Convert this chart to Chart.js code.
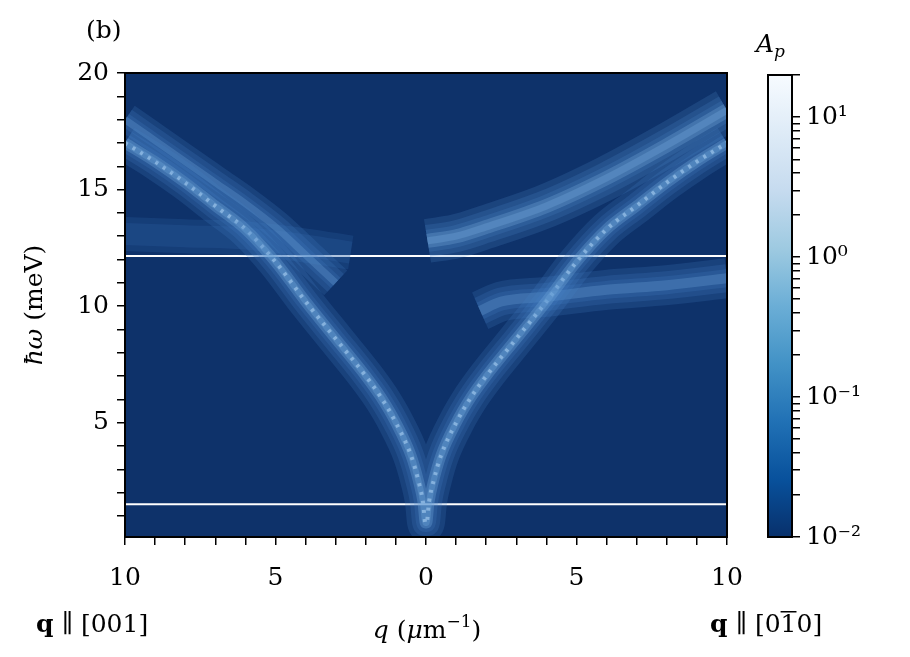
<!DOCTYPE html>
<html><head><meta charset="utf-8">
<script src="https://cdn.jsdelivr.net/npm/chart.js@4"></script>
<style>body{margin:0;background:#fff;width:910px;height:657px;position:relative;overflow:hidden}
#c1{position:absolute;left:0;top:0}#c2{position:absolute;left:740px;top:0}</style></head>
<body><canvas id="c1" width="910" height="657"></canvas><canvas id="c2" width="170" height="657"></canvas>
<script>
// dispersion (q in μm^-1, ħω in meV), same on both sides
const dispQ = [0.02,0.1,0.25,0.5,1,1.5,2,3,4,5,6,7,8,9,10];
const dispW = [0.7,1.6,2.5,3.6,5.0,6.1,7.0,8.6,10.2,11.9,13.3,14.3,15.3,16.2,17.0];
// bright bands
const rightUpperQ = [0.05,1,2,4,6,8,10];
const rightUpperW = [12.8,13.0,13.4,14.3,15.5,16.9,18.4];
const rightLowerQ = [1.8,2.5,4,6,8,10];
const rightLowerW = [9.8,10.2,10.4,10.7,10.9,11.2];
const leftUpperQ = [3,4,5,6,7,8,9,10];
const leftUpperW = [11.0,12.2,13.4,14.4,15.3,16.2,17.1,18.0];
const leftLowerQ = [2.5,4,6,8,10];
const leftLowerW = [12.3,12.6,12.9,13.0,13.1];
const hLines = [12.15, 1.5];
const serif = "'DejaVu Serif',serif";

const pts=(qs,ws,s)=>qs.map((q,i)=>({x:s*q,y:ws[i]}));
const full=(qs,ws)=>pts(qs,ws,-1).reverse().concat(pts(qs,ws,1));
const line=(data,w,c)=>({type:'line',data,borderColor:c,borderWidth:w,pointRadius:0,cubicInterpolationMode:'monotone',borderCapStyle:'butt',fill:false});
const glow=(data,ws,rgb,a)=>ws.map(w=>line(data,w,`rgba(${rgb},${a})`));
const ds=[
 ...glow(full(dispQ,dispW),[36,26,18],'70,130,200',0.2),
 ...glow(full(dispQ,dispW),[11,6],'150,200,235',0.35),
 ...glow(pts(rightUpperQ,rightUpperW,1),[44,32,22],'80,140,205',0.2),
 ...glow(pts(rightUpperQ,rightUpperW,1),[14,7],'160,205,238',0.3),
 ...glow(pts(rightLowerQ,rightLowerW,1),[40,28,18],'70,130,200',0.2),
 ...glow(pts(rightLowerQ,rightLowerW,1),[10],'150,200,235',0.3),
 ...glow(pts(leftUpperQ,leftUpperW,-1),[34,24,14],'70,130,200',0.2),
 ...glow(pts(leftUpperQ,leftUpperW,-1),[7],'150,200,235',0.3),
 ...glow(pts(leftLowerQ,leftLowerW,-1),[34,22],'50,105,175',0.22),
 ...hLines.map(h=>({type:'line',data:[{x:-10,y:h},{x:10,y:h}],borderColor:'#fff',borderWidth:2,pointRadius:0})),
 {type:'line',data:full(dispQ,dispW),borderColor:'#fff',borderWidth:4,borderDash:[3,6],pointRadius:0,cubicInterpolationMode:'monotone',fill:false}
];
function txt(x,parts,X,Y){let cx=X;parts.forEach(p=>{x.font=p[1];x.fillText(p[0],cx,Y+(p[2]||0));cx+=x.measureText(p[0]).width;});}
function wid(x,parts){let w=0;parts.forEach(p=>{x.font=p[1];w+=x.measureText(p[0]).width;});return w;}
const F='25px '+serif, FI='italic 25px '+serif, FS='17px '+serif, FB='bold 25px '+serif;
const bg={id:'bg',beforeDatasetsDraw(c){const a=c.chartArea,x=c.ctx;x.save();x.fillStyle='#0e326a';x.fillRect(a.left,a.top,a.width,a.height);x.restore();},
 afterDraw(c){const a=c.chartArea,x=c.ctx;x.save();x.strokeStyle='#000';x.lineWidth=2;x.strokeRect(a.left,a.top,a.width,a.height);
 x.fillStyle='#000';x.textAlign='left';x.textBaseline='alphabetic';
 txt(x,[['(b)',F]],86,38);
 const p=[['q',FI],[' (',F],['μ',FI],['m',F],['−1',FS,-11],[')',F]];txt(x,p,427-wid(x,p)/2,638);
 txt(x,[['q',FB],[' ∥ [001]',F]],36,632);
 txt(x,[['q',FB],[' ∥ [0',F]],710,632);
 x.font=F;const w0=710+wid(x,[['q',FB],[' ∥ [0',F]]);x.fillText('1',w0,632);const w1=x.measureText('1').width;x.fillRect(w0,611,w1,1.5);x.fillText('0]',w0+w1,632);
 x.translate(42,305);x.rotate(-Math.PI/2);const py=[['ħω',FI],[' (meV)',F]];txt(x,py,-wid(x,py)/2,0);
 x.restore();}};
const tickGrid={display:true,drawOnChartArea:false,tickLength:8,tickColor:'#000',lineWidth:1.5};
new Chart(document.getElementById('c1'),{type:'line',data:{datasets:ds},plugins:[bg],
 options:{responsive:false,animation:false,layout:{padding:{left:0,right:183,top:73,bottom:46}},
 plugins:{legend:{display:false},tooltip:{enabled:false}},
 scales:{x:{type:'linear',min:-10,max:10,grid:tickGrid,border:{display:false},
   ticks:{autoSkip:false,maxRotation:0,color:'#000',font:{family:serif,size:25},padding:18,callback:v=>v%5===0?Math.abs(v):''},
   afterBuildTicks(s){s.ticks=[];for(let v=-10;v<=10;v++)s.ticks.push({value:v});}},
  y:{type:'linear',min:0.1,max:20,border:{display:false},grid:tickGrid,
   ticks:{autoSkip:false,color:'#000',font:{family:serif,size:25},padding:8,callback:v=>v%5===0&&v>0?v:''},
   afterFit(s){s.width=125;},
   afterBuildTicks(s){s.ticks=[];for(let v=1;v<=20;v++)s.ticks.push({value:v});}}}}});

// colorbar
const cbPl={id:'cb',beforeDatasetsDraw(c){const a=c.chartArea,x=c.ctx;const g=x.createLinearGradient(0,a.bottom,0,a.top);
 const stops=['#08306b','#08519c','#2171b5','#4292c6','#6baed6','#9ecae1','#c6dbef','#deebf7','#f7fbff'];
 stops.forEach((s,i)=>g.addColorStop(i/(stops.length-1),s));x.save();x.fillStyle=g;x.fillRect(a.left,a.top,a.width,a.height);
 x.strokeStyle='#000';x.lineWidth=2;x.strokeRect(a.left,a.top,a.width,a.height);
 x.fillStyle='#000';txt(x,[['A',FI],['p',"italic 17px "+serif,5]],16,52);x.restore();}};
const sup={'-2':'⁻²','-1':'⁻¹','0':'⁰','1':'¹'};
new Chart(document.getElementById('c2'),{type:'scatter',data:{datasets:[{data:[]}]},plugins:[cbPl],
 options:{responsive:false,animation:false,layout:{padding:{left:28,right:0,top:75,bottom:657-537}},
 plugins:{legend:{display:false},tooltip:{enabled:false}},
 scales:{x:{display:false,min:0,max:1},y:{type:'logarithmic',position:'right',min:0.01,max:20,border:{display:false},
  grid:tickGrid,
  ticks:{color:'#000',font:{family:serif,size:25},padding:6,autoSkip:false,
   callback:v=>{const e=Math.log10(v);return Math.abs(e-Math.round(e))<1e-9?'10'+sup[Math.round(e)]:'';}},
  afterFit(s){s.width=118;},
  afterBuildTicks(s){s.ticks=[];for(let d=-2;d<=1;d++)for(let m=1;m<10;m++){const v=m*Math.pow(10,d);if(v<=20&&v>=0.01)s.ticks.push({value:v});}}}}}});
</script></body></html>
